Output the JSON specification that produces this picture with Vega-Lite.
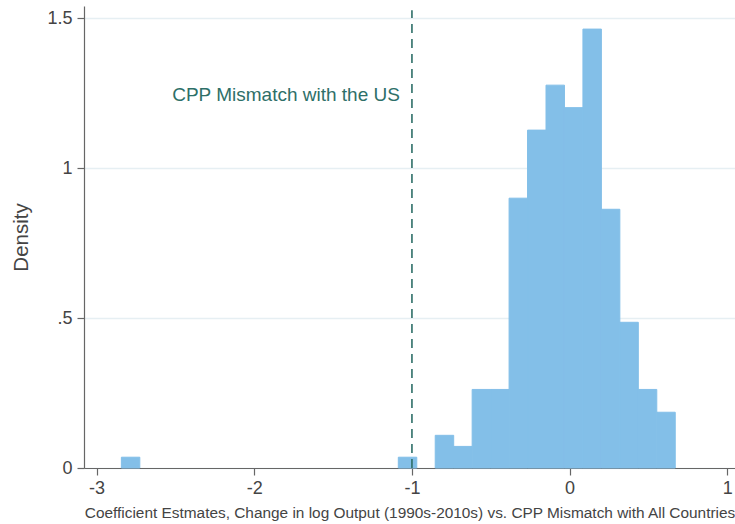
{
  "$schema": "https://vega.github.io/schema/vega-lite/v6.json",
  "width": 651,
  "height": 462,
  "autosize": "none",
  "padding": {"left": 84, "top": 6, "right": 0, "bottom": 56},
  "background": "white",
  "config": {
    "view": {"stroke": null},
    "font": "Liberation Sans",
    "axis": {
      "domainColor": "#666666",
      "tickColor": "#666666",
      "labelColor": "#444444",
      "titleColor": "#444444",
      "labelFont": "Liberation Sans",
      "titleFont": "Liberation Sans",
      "titleFontWeight": "normal",
      "tickSize": 7,
      "domainWidth": 1.2,
      "tickWidth": 1.2
    }
  },
  "datasets": {
    "bins": [
      {"bin_start": -2.843, "bin_end": -2.726, "density": 0.036},
      {"bin_start": -1.0865, "bin_end": -0.9694, "density": 0.036},
      {"bin_start": -0.8523, "bin_end": -0.7352, "density": 0.109},
      {"bin_start": -0.7352, "bin_end": -0.6181, "density": 0.072},
      {"bin_start": -0.6181, "bin_end": -0.5010, "density": 0.262},
      {"bin_start": -0.5010, "bin_end": -0.3839, "density": 0.262},
      {"bin_start": -0.3839, "bin_end": -0.2668, "density": 0.900},
      {"bin_start": -0.2668, "bin_end": -0.1497, "density": 1.127},
      {"bin_start": -0.1497, "bin_end": -0.0326, "density": 1.277},
      {"bin_start": -0.0326, "bin_end": 0.0845, "density": 1.202},
      {"bin_start": 0.0845, "bin_end": 0.2016, "density": 1.464},
      {"bin_start": 0.2016, "bin_end": 0.3187, "density": 0.863},
      {"bin_start": 0.3187, "bin_end": 0.4358, "density": 0.486},
      {"bin_start": 0.4358, "bin_end": 0.5529, "density": 0.262},
      {"bin_start": 0.5529, "bin_end": 0.6700, "density": 0.186}
    ],
    "marker": [
      {"x": -1, "y0": 0, "y1": 1.527, "ylab": 1.244, "label": "CPP Mismatch with the US"}
    ]
  },
  "layer": [
    {
      "data": {"name": "bins"},
      "mark": {"type": "bar", "color": "#83bfe8", "stroke": "#83bfe8", "strokeWidth": 1},
      "encoding": {
        "x": {
          "field": "bin_start",
          "type": "quantitative",
          "scale": {"domain": [-3.08, 1.049], "nice": false, "zero": false},
          "axis": {
            "values": [-3, -2, -1, 0, 1],
            "grid": false,
            "labelExpr": "'' + datum.value",
            "labelFontSize": 18,
            "labelPadding": 4,
            "title": "Coefficient Estmates, Change in log Output (1990s-2010s) vs. CPP Mismatch with All Countries",
            "titleFontSize": 15.4,
            "titlePadding": 8
          }
        },
        "x2": {"field": "bin_end"},
        "y": {
          "field": "density",
          "type": "quantitative",
          "scale": {"domain": [0, 1.541], "nice": false},
          "axis": {
            "values": [0, 0.5, 1, 1.5],
            "grid": true,
            "gridColor": "#e6eff3",
            "gridWidth": 1.5,
            "labelExpr": "datum.value == 0.5 ? '.5' : '' + datum.value",
            "labelFontSize": 18,
            "labelPadding": 5,
            "title": "Density",
            "titleFontSize": 20.5,
            "titlePadding": 15
          }
        },
        "y2": {"datum": 0}
      }
    },
    {
      "data": {"name": "marker"},
      "mark": {"type": "rule", "color": "#2e6f68", "strokeWidth": 1.6, "strokeDash": [9, 6]},
      "encoding": {
        "x": {"field": "x", "type": "quantitative"},
        "y": {"field": "y0", "type": "quantitative"},
        "y2": {"field": "y1"}
      }
    },
    {
      "data": {"name": "marker"},
      "mark": {"type": "text", "color": "#2e6f68", "fontSize": 19, "align": "right", "baseline": "middle", "dx": -12, "font": "Liberation Sans"},
      "encoding": {
        "x": {"field": "x", "type": "quantitative"},
        "y": {"field": "ylab", "type": "quantitative"},
        "text": {"field": "label"}
      }
    }
  ]
}
